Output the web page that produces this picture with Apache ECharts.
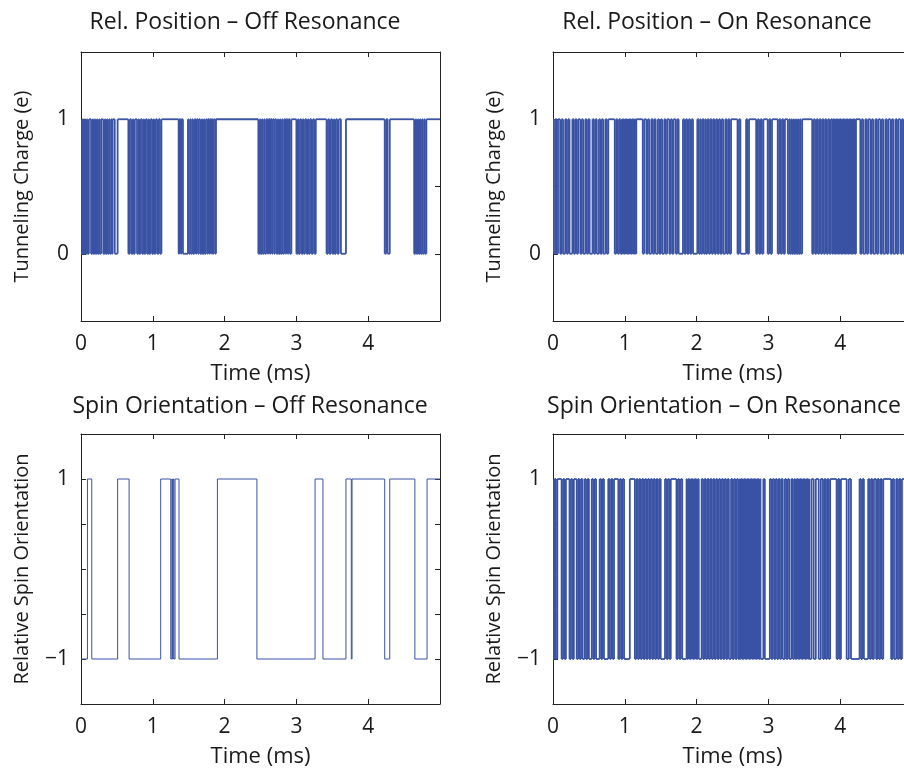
<!DOCTYPE html>
<html>
<head>
<meta charset="utf-8">
<script src="https://cdn.jsdelivr.net/npm/echarts@6/dist/echarts.min.js"></script>
<style>
  html, body { margin: 0; padding: 0; background: #ffffff; overflow: hidden; }
  #chart { width: 924px; height: 770px; }
</style>
</head>
<body>
<div id="chart"></div>
<script>
// Telegraph-style traces: each array holds the switching times (ms);
// the trace flips between its two levels at every listed time.

const timeTicks = [0, 1, 2, 3, 4];
const chargeTicks = [0, 1];
const spinTicks = [-1, 1];

const panelTitles = [
  'Rel. Position \u2013 Off Resonance',
  'Rel. Position \u2013 On Resonance',
  'Spin Orientation \u2013 Off Resonance',
  'Spin Orientation \u2013 On Resonance'
];

// Tunneling charge, off resonance (starts at 1)
const chargeOffSwitches = [
  0.00,0.02, 0.03,0.05, 0.06,0.08, 0.09,0.11,
  0.14,0.16, 0.17,0.19, 0.20,0.22, 0.23,0.25, 0.26,0.28,
  0.31,0.33, 0.34,0.36, 0.37,0.39, 0.40,0.42, 0.43,0.44,
  0.47,0.51,
  0.66,0.68, 0.70,0.72, 0.73,0.75, 0.78,0.80, 0.81,0.83, 0.85,0.87, 0.88,0.90,
  0.92,0.94, 0.95,0.97, 0.99,1.01, 1.02,1.04, 1.06,1.08, 1.10,1.12,
  1.36,1.37, 1.39,1.40, 1.42,1.49, 1.50,1.52, 1.53,1.55, 1.56,1.58, 1.60,1.61,
  1.63,1.64, 1.66,1.68, 1.69,1.71, 1.72,1.74, 1.76,1.77, 1.79,1.80, 1.82,1.83,
  1.84,1.85, 1.87,1.88,
  2.47,2.49, 2.50,2.52, 2.53,2.55, 2.56,2.58, 2.60,2.61, 2.63,2.64, 2.66,2.67,
  2.69,2.70, 2.72,2.74, 2.75,2.77, 2.78,2.80, 2.81,2.83, 2.85,2.86, 2.88,2.89,
  2.91,2.93,
  3.00,3.02, 3.03,3.05, 3.07,3.09, 3.10,3.12, 3.14,3.16, 3.17,3.19, 3.21,3.23,
  3.25,3.27,
  3.42,3.44, 3.46,3.48, 3.50,3.52, 3.53,3.55, 3.57,3.59, 3.62,3.69,
  4.23,4.25, 4.27,4.30,
  4.64,4.66, 4.67,4.69, 4.70,4.72, 4.73,4.75, 4.76,4.78, 4.79,4.81
];

// Tunneling charge, on resonance (starts at 1)
const chargeOnSwitches = [
  0.01,0.03,0.05,0.07,0.10,0.12,0.14,0.17,0.19,0.21,0.23,0.27,0.29,0.31,0.33,
  0.35,0.38,0.40,0.42,0.45,0.47,0.49,0.51,0.55,0.57,0.59,0.61,0.64,0.66,0.68,
  0.70,0.73,0.75,0.77,
  0.86,0.88,0.90,0.92,0.94,0.96,0.97,0.98,0.99,1.00,1.01,1.02,1.03,1.04,1.05,
  1.06,1.07,1.08,1.09,1.10,1.11,1.12,1.13,1.14,1.15,1.16,
  1.25,1.27,1.30,1.32,1.34,1.37,1.39,1.41,1.43,1.46,1.48,1.50,1.52,1.55,1.57,
  1.59,1.62,1.64,1.66,1.68,1.71,1.73,1.75,
  1.81,1.83,1.85,1.87,1.89,1.91,1.93,1.95,
  2.01,2.03,2.05,2.06,2.08,2.10,2.12,2.13,2.15,2.17,2.19,2.21,2.23,2.25,2.27,
  2.29,2.31,2.33,2.35,2.37,2.40,2.42,2.44,2.46,2.48,
  2.57,2.59,2.61,
  2.69,2.71,2.73,
  2.83,2.85,2.87,2.89,2.91,2.93,
  2.99,3.01,3.03,3.05,
  3.13,3.15,3.17,3.19,3.21,3.23,
  3.27,3.29,3.30,3.32,3.33,3.35,3.36,3.38,3.39,3.41,3.42,3.44,3.45,3.47,
  3.61,3.63,3.65,3.67,3.69,3.71,3.73,3.75,3.77,3.79,
  3.81,3.83,3.85,3.87,3.89,3.90,3.91,3.92,3.93,3.94,3.95,3.96,3.97,3.98,3.99,
  4.00,4.01,4.02,4.03,4.04,4.05,4.06,4.07,4.08,4.09,4.10,4.11,4.12,4.13,4.14,
  4.15,4.16,4.17,4.18,4.19,4.20,4.21,4.22,
  4.28,4.30,4.32,4.35,4.37,4.39,4.42,4.44,4.46,4.49,4.51,4.53,4.56,4.58,4.60,
  4.63,4.65,4.67,4.70,4.72,4.74,4.77,4.79,4.81,4.84,4.86,4.88,4.91,4.93,4.96,4.98
];

// Relative spin orientation, off resonance (starts at -1)
const spinOffSwitches = [
  0.09, 0.15, 0.51, 0.67, 1.11, 1.25, 1.265, 1.275, 1.285, 1.295, 1.31, 1.365,
  1.90, 2.45, 3.26, 3.37, 3.69, 3.765, 3.775, 4.23, 4.30, 4.65, 4.82
];

// Relative spin orientation, on resonance (starts at 1)
const spinOnSwitches = [
  0.00,0.02,0.04,0.06,
  0.12,0.14,0.16,0.18,
  0.23,0.25,0.27,0.29,
  0.33,0.35,0.37,0.39,0.41,
  0.44,0.46,0.48,0.50,
  0.54,0.56,0.58,0.60,
  0.65,0.67,0.69,0.71,
  0.77,0.79,0.81,0.83,0.85,
  0.91,0.93,0.95,0.97,0.99,
  1.07,
  1.14,1.16,1.18,1.20,1.22,1.24,1.26,1.28,1.30,
  1.32,1.34,1.36,1.38,1.40,1.42,1.44,1.46,1.48,1.50,
  1.56,1.58,1.60,1.62,1.64,
  1.72,1.74,1.76,1.78,1.80,
  1.86,1.87,1.88,1.89,1.90,1.91,1.92,1.93,1.94,1.95,1.96,1.97,1.98,1.99,2.00,
  2.01,2.02,2.03,
  2.07,2.09,2.11,2.13,2.15,2.17,2.19,2.21,2.23,2.25,2.27,2.29,2.31,2.33,2.35,
  2.37,2.39,2.41,2.43,2.45,
  2.48,2.50,2.52,2.54,2.56,2.58,2.60,2.61,2.62,2.63,2.64,2.65,2.66,2.67,2.68,
  2.69,2.70,2.71,2.72,2.73,2.74,2.75,2.76,2.77,2.78,2.79,2.80,2.81,2.82,2.83,
  2.84,2.85,2.86,2.87,2.88,2.89,
  2.93,2.95,
  3.02,3.04,3.06,3.08,3.10,3.12,3.14,3.16,3.18,3.20,
  3.23,3.25,3.27,3.29,
  3.32,3.34,3.36,3.37,3.38,3.39,3.40,3.41,3.42,3.43,3.44,3.45,3.46,3.47,3.48,
  3.49,3.50,3.51,3.52,3.53,3.54,3.55,3.56,3.57,
  3.60,3.63,3.66,
  3.70,3.73,3.76,
  3.78,3.80,3.82,3.84,3.86,
  3.95,3.97,3.99,4.01,
  4.09,4.12,4.15,
  4.27,4.29,4.31,4.33,
  4.39,4.41,4.43,4.45,4.47,
  4.50,4.52,4.54,4.56,4.58,4.60,
  4.71,4.73,4.75,
  4.78,4.80,4.82,4.84,4.86,
  4.90,4.93,4.96
];

const T_END = 5;
const FONT = '"Open Sans", "DejaVu Sans", sans-serif';
const TEXT = '#1a1a1a';
const LINE = '#3a53a4';

// One record per dwell: [start, end, level, level after the switch at end]
function dwellSegments(switches, start, lo, hi) {
  const segs = [];
  let v = start, t0 = 0;
  for (const t of switches) {
    const nv = (v === lo) ? hi : lo;
    segs.push([t0, t, v, nv]);
    v = nv; t0 = t;
  }
  segs.push([t0, T_END, v, v]);
  return segs;
}

// Each dwell is drawn as its own horizontal run plus the switching edge,
// so very short dwells keep their vertical edges intact.
function makeRenderer(lineWidth) {
  return function (params, api) {
    const a = api.coord([api.value(0), api.value(2)]);
    const b = api.coord([api.value(1), api.value(2)]);
    const c = api.coord([api.value(1), api.value(3)]);
    const style = { stroke: LINE, lineWidth: lineWidth, fill: null };
    const children = [{ type: 'line', shape: { x1: a[0], y1: a[1], x2: b[0], y2: b[1] }, style }];
    if (api.value(2) !== api.value(3)) {
      children.push({ type: 'line', shape: { x1: b[0], y1: b[1], x2: c[0], y2: c[1] }, style });
    }
    return { type: 'group', children };
  };
}

const panels = [
  { left: 81,  top: 52,  width: 359, height: 269, y: 'charge', yName: 'Tunneling Charge (e)',
    data: dwellSegments(chargeOffSwitches, 1, 0, 1), titleX: 245, titleY: 22, lw: 1.8 },
  { left: 553, top: 52,  width: 359, height: 269, y: 'charge', yName: 'Tunneling Charge (e)',
    data: dwellSegments(chargeOnSwitches, 1, 0, 1), titleX: 717, titleY: 22, lw: 1.8 },
  { left: 81,  top: 434, width: 359, height: 270, y: 'spin', yName: 'Relative Spin Orientation',
    data: dwellSegments(spinOffSwitches, -1, -1, 1), titleX: 250, titleY: 406, lw: 1 },
  { left: 553, top: 434, width: 359, height: 270, y: 'spin', yName: 'Relative Spin Orientation',
    data: dwellSegments(spinOnSwitches, 1, -1, 1), titleX: 724, titleY: 406, lw: 1.8 }
];

const axisLine = { show: true, onZero: false, lineStyle: { color: '#222', width: 1 } };
const tick = { show: true, inside: true, length: 5, lineStyle: { color: '#222', width: 1 } };

const grid = [], xAxis = [], yAxis = [], series = [], graphic = [];

panels.forEach((p, i) => {
  grid.push({ left: p.left, top: p.top, width: p.width, height: p.height, containLabel: false });

  const xBase = { gridIndex: i, type: 'value', min: 0, max: T_END, interval: 1,
                  axisLine, axisTick: tick, splitLine: { show: false } };
  xAxis.push(Object.assign({}, xBase, {
    position: 'bottom',
    name: 'Time (ms)', nameLocation: 'middle', nameGap: 42,
    nameTextStyle: { fontFamily: FONT, fontSize: 22, color: TEXT },
    axisLabel: { margin: 13, fontFamily: FONT, fontSize: 21, color: TEXT,
                 showMaxLabel: false,
                 formatter: v => timeTicks.includes(v) ? String(v) : '' }
  }));
  xAxis.push(Object.assign({}, xBase, { position: 'top', axisLabel: { show: false } }));

  const isCharge = p.y === 'charge';
  const yBase = { gridIndex: i, type: 'value',
                  min: isCharge ? -0.5 : -1.5, max: 1.5, interval: 0.5,
                  axisLine, axisTick: tick, splitLine: { show: false } };
  const yTicks = isCharge ? chargeTicks : spinTicks;
  yAxis.push(Object.assign({}, yBase, {
    position: 'left',
    name: p.yName, nameLocation: 'middle', nameGap: 49, nameRotate: 90,
    nameTextStyle: { fontFamily: FONT, fontSize: 20, color: TEXT },
    axisLabel: { margin: 12, fontFamily: FONT, fontSize: 21, color: TEXT,
                 formatter: v => yTicks.includes(v) ? (v < 0 ? '\u2212' + Math.abs(v) : String(v)) : '' }
  }));
  yAxis.push(Object.assign({}, yBase, { position: 'right', axisLabel: { show: false } }));

  series.push({
    type: 'custom', xAxisIndex: 2 * i, yAxisIndex: 2 * i,
    data: p.data, renderItem: makeRenderer(p.lw), clip: true,
    encode: { x: [0, 1], y: [2, 3] },
    silent: true, animation: false
  });

  graphic.push({
    type: 'text', x: p.titleX, y: p.titleY,
    style: { text: panelTitles[i], font: '23px ' + FONT, fill: TEXT,
             textAlign: 'center', textVerticalAlign: 'middle',
             align: 'center', verticalAlign: 'middle' }
  });
});

const chart = echarts.init(document.getElementById('chart'), null, { renderer: 'canvas' });
chart.setOption({
  animation: false,
  backgroundColor: '#ffffff',
  grid, xAxis, yAxis, series, graphic
});
</script>
</body>
</html>
